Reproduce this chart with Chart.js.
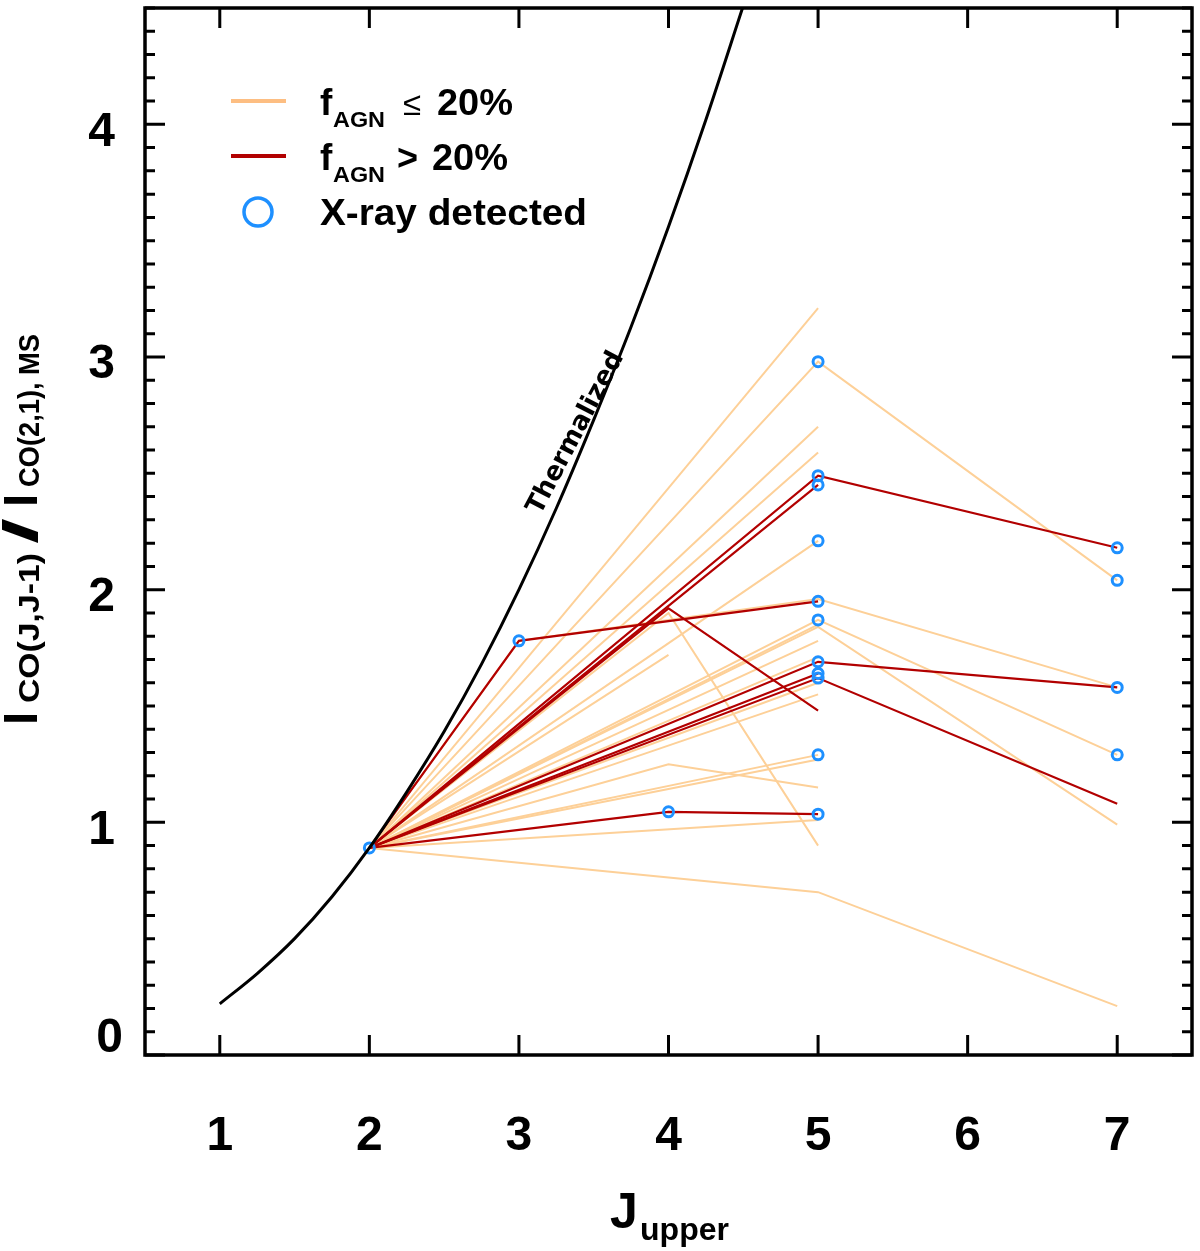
<!DOCTYPE html>
<html>
<head>
<meta charset="utf-8">
<script src="https://cdn.jsdelivr.net/npm/chart.js@4"></script>
<style>
  html, body { margin: 0; padding: 0; background: #fff; }
  canvas { display: block; }
</style>
</head>
<body>
<canvas id="coChart" width="1200" height="1251"></canvas>
<script>
// J_upper positions where line ratios were measured
var jUpper = [2, 3, 4, 5, 7];

// one row per galaxy, values aligned with jUpper (null = no data)
var lowAgnRatios = [
  [0.89, null, null, 3.21, null],
  [0.89, null, null, 2.98, 2.04],
  [0.89, null, null, 2.70, null],
  [0.89, null, null, 2.59, null],
  [0.89, null, null, 2.21, null],
  [0.89, 1.78, null, 1.96, 1.58],
  [0.89, null, 1.90, 0.90, null],
  [0.89, null, 1.72, null, null],
  [0.89, null, null, 1.87, 1.29],
  [0.89, null, null, 1.84, 0.99],
  [0.89, null, null, 1.85, null],
  [0.89, null, null, 1.78, null],
  [0.89, null, null, 1.71, null],
  [0.89, null, null, 1.60, null],
  [0.89, null, null, 1.55, null],
  [0.89, null, null, 1.29, null],
  [0.89, null, null, 1.27, null],
  [0.89, null, 1.25, 1.15, null],
  [0.89, null, null, 1.01, null],
  [0.89, null, null, 0.70, 0.21]
];

var highAgnRatios = [
  [0.89, 1.78, null, 1.95, null],
  [0.89, null, null, 2.49, 2.18],
  [0.89, null, null, 2.45, null],
  [0.89, null, 1.92, 1.48, null],
  [0.89, null, null, 1.69, 1.58],
  [0.89, null, null, 1.64, null],
  [0.89, null, null, 1.62, 1.08],
  [0.89, null, 1.045, 1.035, null]
];

// X-ray detected sources
var xrayJ =     [2,    3,    4,     5,    5,    5,    5,    5,    5,    5,    5,    5,    5,    5,     7,    7,    7,    7];
var xrayRatio = [0.89, 1.78, 1.045, 2.98, 2.49, 2.45, 2.21, 1.95, 1.87, 1.69, 1.64, 1.62, 1.29, 1.035, 2.18, 2.04, 1.58, 1.29];

// thermalized curve
var thermJ =     [1,    1.25, 1.5,  1.75, 2,    2.25, 2.5,  2.75, 3,    3.25, 3.5,  3.75, 4,    4.25, 4.5];
var thermRatio = [0.22, 0.35, 0.50, 0.68, 0.89, 1.13, 1.39, 1.68, 2.00, 2.35, 2.73, 3.13, 3.56, 4.02, 4.51];

var xTicks = [1, 2, 3, 4, 5, 6, 7];
var yTicks = [0, 1, 2, 3, 4];

var ORANGE = "rgb(253, 208, 152)";
var RED = "rgb(178, 0, 0)";
var BLUE = "rgb(30, 144, 255)";
var FONT = "'Liberation Sans', Arial, Helvetica, sans-serif";

function toPoints(row) {
  var pts = [];
  for (var i = 0; i < row.length; i++) {
    if (row[i] !== null) pts.push({ x: jUpper[i], y: row[i] });
  }
  return pts;
}

var datasets = [];

datasets.push({
  label: "Thermalized",
  data: thermJ.map((j, i) => ({ x: j, y: thermRatio[i] })),
  borderColor: "#000",
  borderWidth: 3,
  pointRadius: 0,
  cubicInterpolationMode: "monotone",
  order: 0,
});

datasets.push({
  label: "X-ray detected",
  data: xrayJ.map((j, i) => ({ x: j, y: xrayRatio[i] })),
  showLine: false,
  pointRadius: 5,
  pointBorderWidth: 3,
  pointBackgroundColor: "rgba(0,0,0,0)",
  pointBorderColor: BLUE,
  order: 1,
});

for (var row of highAgnRatios) {
  datasets.push({
    label: "fAGN > 20%",
    data: toPoints(row),
    borderColor: RED,
    borderWidth: 2.2,
    pointRadius: 0,
    order: 2,
  });
}

for (var row of lowAgnRatios) {
  datasets.push({
    label: "fAGN <= 20%",
    data: toPoints(row),
    borderColor: ORANGE,
    borderWidth: 2,
    pointRadius: 0,
    order: 3,
  });
}

// draws text squeezed/stretched to a given length (rotated if angle given)
function fitText(ctx, text, x, y, font, width, angle) {
  ctx.save();
  ctx.font = font;
  var w = ctx.measureText(text).width;
  ctx.translate(x, y);
  if (angle) ctx.rotate(angle);
  if (width) ctx.scale(width / w, 1);
  ctx.fillText(text, 0, 0);
  ctx.restore();
}

function noPadding(s) {
  s.paddingTop = 0;
  s.paddingBottom = 0;
  s.paddingLeft = 0;
  s.paddingRight = 0;
}

var decorations = {
  id: "decorations",
  afterDraw(chart) {
    var ctx = chart.ctx;
    var a = chart.chartArea;
    var x = chart.scales.x;
    var y = chart.scales.y;
    ctx.save();
    ctx.strokeStyle = "#000";
    ctx.fillStyle = "#000";

    // frame
    ctx.lineWidth = 3.5;
    ctx.strokeRect(a.left, a.top, a.right - a.left, a.bottom - a.top);

    // inward ticks
    ctx.lineWidth = 3;
    ctx.beginPath();
    for (var v of xTicks) {
      var px = x.getPixelForValue(v);
      ctx.moveTo(px, a.bottom); ctx.lineTo(px, a.bottom - 20);
      ctx.moveTo(px, a.top); ctx.lineTo(px, a.top + 20);
    }
    for (var i = 0; i <= 45; i++) {
      var py = y.getPixelForValue(i / 10);
      var len = i % 10 === 0 ? 20 : 10;
      ctx.moveTo(a.left, py); ctx.lineTo(a.left + len, py);
      ctx.moveTo(a.right, py); ctx.lineTo(a.right - len, py);
    }
    ctx.stroke();

    // the "0" label sits raised above the bottom axis, as in the original
    ctx.textAlign = "right";
    ctx.textBaseline = "middle";
    ctx.font = "bold 48px " + FONT;
    ctx.fillText("0", a.left - 22, y.getPixelForValue(0) - 16);

    ctx.textAlign = "left";
    ctx.textBaseline = "alphabetic";

    // x title
    fitText(ctx, "J", 610, 1228, "bold 50px " + FONT);
    fitText(ctx, "upper", 640, 1240, "bold 31px " + FONT, 89);

    // y title (rotated)
    var up = -Math.PI / 2;
    fitText(ctx, "I", 37, 725, "bold 48px " + FONT, null, up);
    fitText(ctx, "CO(J,J-1)", 38.5, 703, "bold 30px " + FONT, 150, up);
    fitText(ctx, "/", 37, 544, "bold 48px " + FONT, 26, up);
    fitText(ctx, "I", 37, 507, "bold 48px " + FONT, null, up);
    fitText(ctx, "CO(2,1), MS", 38.5, 487, "bold 30px " + FONT, 153, up);

    // Thermalized label
    ctx.textAlign = "center";
    ctx.textBaseline = "middle";
    fitText(ctx, "Thermalized", 576, 433, "bold 26px 'DejaVu Sans', " + FONT, 180, -62.3 * Math.PI / 180);

    // legend
    ctx.textAlign = "left";
    ctx.textBaseline = "alphabetic";
    ctx.lineWidth = 4;
    ctx.strokeStyle = "rgb(253, 190, 130)";
    ctx.beginPath(); ctx.moveTo(231, 101); ctx.lineTo(286, 101); ctx.stroke();
    ctx.strokeStyle = RED;
    ctx.beginPath(); ctx.moveTo(231, 156); ctx.lineTo(286, 156); ctx.stroke();
    ctx.strokeStyle = BLUE;
    ctx.lineWidth = 3.5;
    ctx.beginPath(); ctx.arc(258, 212, 14, 0, 2 * Math.PI); ctx.stroke();

    fitText(ctx, "f", 320, 115, "bold 37px " + FONT);
    fitText(ctx, "AGN", 333, 127, "bold 22px " + FONT, 52);
    fitText(ctx, "\u2264", 403, 115, "33px " + FONT);
    fitText(ctx, "20%", 437, 115, "bold 36px " + FONT, 76);
    fitText(ctx, "f", 320, 170, "bold 37px " + FONT);
    fitText(ctx, "AGN", 333, 182, "bold 22px " + FONT, 52);
    fitText(ctx, ">", 397, 170, "bold 36px " + FONT);
    fitText(ctx, "20%", 432, 170, "bold 36px " + FONT, 76);
    fitText(ctx, "X-ray detected", 320, 225, "bold 36px " + FONT, 267);

    ctx.restore();
  },
};

var config = {
  type: "line",
  data: { datasets: datasets },
  options: {
    responsive: false,
    devicePixelRatio: 1,
    animation: false,
    layout: { padding: { left: 0, top: 5, right: 2, bottom: 0 } },
    plugins: { legend: { display: false }, tooltip: { enabled: false } },
    scales: {
      x: {
        type: "linear",
        min: 0.5,
        max: 7.5,
        grid: { display: false },
        border: { display: false },
        afterBuildTicks: (s) => { s.ticks = xTicks.map((v) => ({ value: v })); },
        afterFit: (s) => { s.height = 196; noPadding(s); },
        ticks: {
          font: { family: FONT, size: 48, weight: "bold" },
          color: "#000",
          padding: 45,
          maxRotation: 0,
          autoSkip: false,
        },
      },
      y: {
        type: "linear",
        min: 0,
        max: 4.5,
        grid: { display: false },
        border: { display: false },
        afterBuildTicks: (s) => { s.ticks = yTicks.map((v) => ({ value: v })); },
        afterFit: (s) => { s.width = 145; noPadding(s); },
        ticks: {
          font: { family: FONT, size: 48, weight: "bold" },
          color: "#000",
          padding: 22,
          labelOffset: 8,
          callback: (v) => (v === 0 ? "" : v),
        },
      },
    },
  },
  plugins: [decorations],
};

const coChart = new Chart(document.getElementById("coChart"), config);
</script>
</body>
</html>
